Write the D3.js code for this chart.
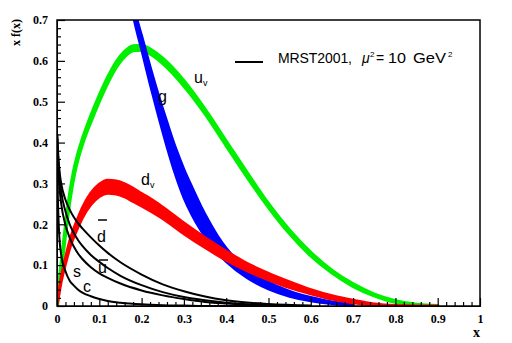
<!DOCTYPE html>
<html>
<head>
<meta charset="utf-8">
<script src="https://cdn.jsdelivr.net/npm/d3@7"></script>
<style>
  body { margin: 0; background: #fff; }
  svg { display: block; }
  .tick text { font-family: "Liberation Serif", "Times New Roman", serif; font-weight: bold; font-size: 12px; }
</style>
</head>
<body>
<div id="plot"></div>
<script>
// x grid for the valence bands
const xv = [0, 0.005, 0.01, 0.02, 0.03, 0.04, 0.05, 0.06, 0.08, 0.1, 0.12, 0.14, 0.16, 0.18, 0.2, 0.22, 0.25, 0.3, 0.35, 0.4, 0.45, 0.5, 0.55, 0.6, 0.65, 0.7, 0.75, 0.8, 0.85, 0.9];
const uvLo = [0, 0.048, 0.092, 0.182, 0.261, 0.321, 0.364, 0.398, 0.453, 0.503, 0.548, 0.586, 0.612, 0.626, 0.627, 0.618, 0.595, 0.540, 0.472, 0.394, 0.316, 0.243, 0.178, 0.124, 0.082, 0.049, 0.026, 0.010, 0.003, 0];
const uvHi = [0, 0.052, 0.098, 0.188, 0.269, 0.329, 0.372, 0.406, 0.463, 0.513, 0.558, 0.596, 0.622, 0.636, 0.637, 0.628, 0.605, 0.550, 0.480, 0.402, 0.324, 0.249, 0.184, 0.130, 0.086, 0.053, 0.028, 0.012, 0.003, 0];
const dvLo = [0, 0.032, 0.06, 0.103, 0.141, 0.17, 0.194, 0.216, 0.248, 0.268, 0.276, 0.274, 0.267, 0.256, 0.245, 0.233, 0.214, 0.177, 0.143, 0.112, 0.086, 0.064, 0.045, 0.030, 0.017, 0.008, 0.003, 0.001, 0, 0];
const dvHi = [0, 0.038, 0.07, 0.117, 0.159, 0.19, 0.216, 0.24, 0.276, 0.298, 0.308, 0.306, 0.299, 0.288, 0.275, 0.263, 0.242, 0.203, 0.167, 0.134, 0.104, 0.080, 0.059, 0.040, 0.025, 0.014, 0.005, 0.001, 0, 0];

// gluon band
const xg = [0.17, 0.18, 0.19, 0.2, 0.22, 0.24, 0.26, 0.28, 0.3, 0.32, 0.34, 0.36, 0.38, 0.4, 0.45, 0.5, 0.55, 0.6, 0.65, 0.7];
const gLo = [0.76, 0.713, 0.669, 0.629, 0.545, 0.466, 0.391, 0.323, 0.266, 0.222, 0.186, 0.155, 0.130, 0.109, 0.069, 0.042, 0.024, 0.013, 0.006, 0.002];
const gHi = [0.78, 0.737, 0.697, 0.661, 0.585, 0.514, 0.449, 0.387, 0.334, 0.288, 0.244, 0.205, 0.170, 0.141, 0.091, 0.058, 0.036, 0.021, 0.010, 0.004];

// sea quarks
const xsea = [0.001, 0.002, 0.005, 0.01, 0.02, 0.03, 0.04, 0.05, 0.06, 0.08, 0.1, 0.12, 0.15, 0.2, 0.25, 0.3, 0.35, 0.4, 0.5, 0.6];
const dbar = [0.42, 0.39, 0.34, 0.30, 0.26, 0.236, 0.217, 0.202, 0.19, 0.168, 0.148, 0.13, 0.107, 0.077, 0.053, 0.036, 0.023, 0.014, 0.005, 0.001];
const ubar = [0.41, 0.38, 0.33, 0.28, 0.232, 0.2, 0.178, 0.161, 0.147, 0.125, 0.108, 0.093, 0.074, 0.051, 0.034, 0.022, 0.014, 0.008, 0.002, 0];
const sbar = [0.39, 0.36, 0.30, 0.25, 0.198, 0.167, 0.145, 0.128, 0.115, 0.095, 0.08, 0.069, 0.055, 0.038, 0.026, 0.017, 0.010, 0.006, 0.001, 0];
const cbar = [0.33, 0.27, 0.18, 0.125, 0.085, 0.062, 0.05, 0.04, 0.033, 0.024, 0.017, 0.012, 0.008, 0.004, 0.002, 0.001, 0, 0, 0, 0];

const xMajor = [0, 0.1, 0.2, 0.3, 0.4, 0.5, 0.6, 0.7, 0.8, 0.9, 1];
const yMajor = [0, 0.1, 0.2, 0.3, 0.4, 0.5, 0.6, 0.7];

const width = 512, height = 343;
const margin = {top: 20, right: 32, bottom: 37, left: 57};

const svg = d3.select("#plot").append("svg")
  .attr("width", width)
  .attr("height", height);

const x = d3.scaleLinear().domain([0, 1]).range([margin.left, width - margin.right]);
const y = d3.scaleLinear().domain([0, 0.7]).range([height - margin.bottom, margin.top]);

svg.append("clipPath").attr("id", "clip")
  .append("rect")
  .attr("x", x(0)).attr("y", y(0.7))
  .attr("width", x(1) - x(0)).attr("height", y(0) - y(0.7));

const plot = svg.append("g").attr("clip-path", "url(#clip)");

// bands
function band(xs, lo, hi) {
  return xs.map((v, i) => ({x: v, lo: lo[i], hi: hi[i]}));
}
const area = d3.area()
  .curve(d3.curveMonotoneX)
  .x(d => x(d.x))
  .y0(d => y(d.lo))
  .y1(d => y(d.hi));

const bands = [
  {data: band(xv, uvLo, uvHi), color: "#00f000", sw: 4},
  {data: band(xg, gLo, gHi), color: "#0000ff", sw: 3},
  {data: band(xv, dvLo, dvHi), color: "#ff0000", sw: 3}
];
bands.forEach(b => {
  plot.append("path")
    .datum(b.data)
    .attr("d", area)
    .attr("fill", b.color)
    .attr("stroke", b.color)
    .attr("stroke-width", b.sw)
    .attr("stroke-linejoin", "round");
});

// sea lines
const line = d3.line()
  .curve(d3.curveMonotoneX)
  .x(d => x(d.x))
  .y(d => y(d.v));
[dbar, ubar, sbar, cbar].forEach(s => {
  plot.append("path")
    .datum(xsea.map((v, i) => ({x: v, v: s[i]})))
    .attr("d", line)
    .attr("fill", "none")
    .attr("stroke", "#000")
    .attr("stroke-width", 2);
});

// axes: minor ticks first, majors on top
const xMinor = d3.range(0, 1.0001, 0.02).filter(v => Math.abs(v * 10 - Math.round(v * 10)) > 1e-6);
const yMinor = d3.range(0, 0.7001, 0.02).filter(v => Math.abs(v * 10 - Math.round(v * 10)) > 1e-6);

svg.append("g")
  .attr("transform", `translate(0,${y(0)})`)
  .call(d3.axisBottom(x).tickValues(xMinor).tickSize(-4).tickSizeOuter(0).tickFormat(""));
svg.append("g")
  .attr("transform", `translate(0,${y(0)})`)
  .call(d3.axisBottom(x).tickValues(xMajor).tickSize(-8).tickSizeOuter(0).tickPadding(8).tickFormat(d3.format("~g")));

svg.append("g")
  .attr("transform", `translate(${x(0)},0)`)
  .call(d3.axisLeft(y).tickValues(yMinor).tickSize(-4).tickSizeOuter(0).tickFormat(""));
svg.append("g")
  .attr("transform", `translate(${x(0)},0)`)
  .call(d3.axisLeft(y).tickValues(yMajor).tickSize(-8).tickSizeOuter(0).tickPadding(9).tickFormat(d3.format("~g")));

svg.selectAll(".tick line").attr("stroke-width", 1.2);

// frame
svg.append("rect")
  .attr("x", x(0)).attr("y", y(0.7))
  .attr("width", x(1) - x(0)).attr("height", y(0) - y(0.7))
  .attr("fill", "none")
  .attr("stroke", "#000")
  .attr("stroke-width", 1.5);

// axis titles
svg.append("text")
  .attr("transform", `translate(20,${y(0.7) - 1}) rotate(-90)`)
  .attr("text-anchor", "end")
  .style("font-family", "Liberation Serif, serif")
  .style("font-weight", "bold")
  .style("font-size", "12px")
  .text("x f(x)");

svg.append("text")
  .attr("x", x(1))
  .attr("y", 337)
  .attr("text-anchor", "end")
  .style("font-family", "Liberation Serif, serif")
  .style("font-weight", "bold")
  .style("font-size", "14px")
  .text("x");

// legend
svg.append("line")
  .attr("x1", 235).attr("x2", 263)
  .attr("y1", 62).attr("y2", 62)
  .attr("stroke", "#000").attr("stroke-width", 2);
const leg = svg.append("text")
  .attr("y", 63)
  .style("font-family", "Liberation Sans, Arial, sans-serif")
  .style("font-size", "14px");
leg.append("tspan").attr("x", 278).attr("textLength", 74).text("MRST2001,");
leg.append("tspan").attr("x", 362).style("font-style", "italic").text("\u03bc");
leg.append("tspan").attr("x", 370).attr("y", 57).style("font-size", "8px").text("2");
leg.append("tspan").attr("x", 376).attr("y", 63).text("=");
leg.append("tspan").attr("x", 388).attr("textLength", 18).attr("lengthAdjust", "spacingAndGlyphs").text("10");
leg.append("tspan").attr("x", 413).attr("textLength", 33).attr("lengthAdjust", "spacingAndGlyphs").text("GeV");
leg.append("tspan").attr("x", 448).attr("y", 57).style("font-size", "8px").text("2");

// curve labels
const labelFont = "Liberation Sans, Arial, sans-serif";
function label(px, py, main, sub) {
  const t = svg.append("text")
    .attr("x", px).attr("y", py)
    .style("font-family", labelFont)
    .style("font-size", "16px");
  t.append("tspan").text(main);
  if (sub) t.append("tspan").attr("dy", 3).style("font-size", "9px").text(sub);
  return t;
}
label(194, 83, "u", "v");
label(158, 102, "g");
label(141, 185, "d", "v");
label(97, 242, "d");
label(98, 273, "u");
label(73, 277, "s");
label(83, 292, "c");
// bars over anti-quark labels
svg.append("line").attr("x1", 98).attr("x2", 107).attr("y1", 220).attr("y2", 220).attr("stroke", "#000").attr("stroke-width", 1.5);
svg.append("line").attr("x1", 99).attr("x2", 108).attr("y1", 260).attr("y2", 260).attr("stroke", "#000").attr("stroke-width", 1.5);
</script>
</body>
</html>
